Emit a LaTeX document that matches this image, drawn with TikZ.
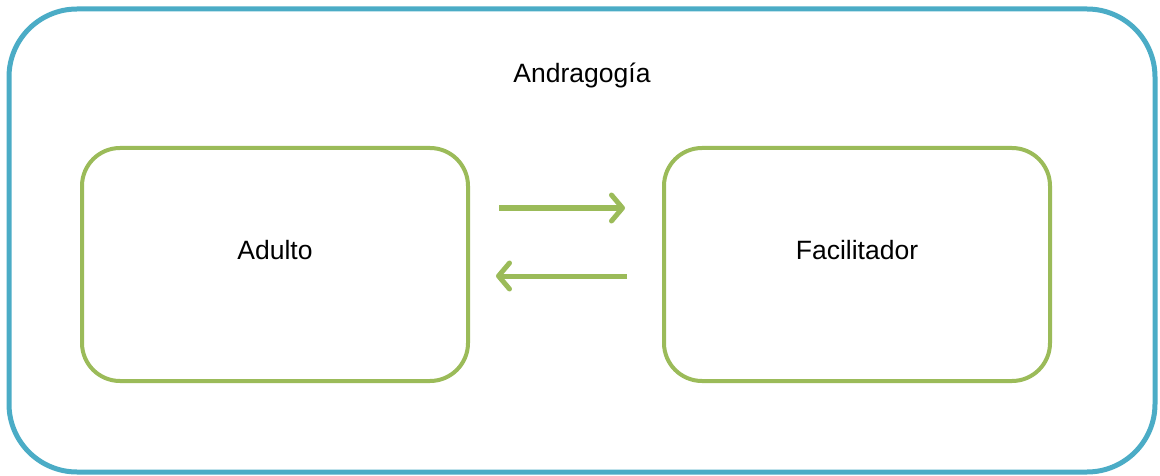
\documentclass[tikz,border=0pt]{standalone}
\usepackage{fontspec}
\setmainfont{Liberation Sans}
\usetikzlibrary{arrows.meta}
\definecolor{outerblue}{HTML}{4BACC6}
\definecolor{boxgreen}{HTML}{9BBB59}
\begin{document}
\begin{tikzpicture}[x=1pt,y=-1pt,
  outerbox/.style={draw=outerblue,line width=5pt,rounded corners=68pt},
  greenbox/.style={draw=boxgreen,line width=4pt,rounded corners=38pt,minimum width=386pt,minimum height=233pt,inner sep=0pt},
  lbl/.style={font=\fontsize{26.5}{31}\selectfont},
  flow/.style={draw=boxgreen,line width=5pt,-{Straight Barb[length=11pt,width=26pt,line width=5pt,round]}}]
\useasboundingbox (0,0) rectangle (1160,476);
\draw[outerbox] (9,9) rectangle (1155,472);
\node[lbl] (title) at (582,75) {Andragogía};
\node[greenbox] (adulto) at (275,264.5) {};
\node[greenbox] (facil) at (857,264.5) {};
\node[lbl] (ta) at (275,250) {Adulto};
\node[lbl] (tf) at (857,250) {Facilitador};
\coordinate (a1) at (499,208);
\coordinate (a2) at (625,208);
\coordinate (b1) at (627,276);
\coordinate (b2) at (496,276);
\draw[flow] (a1) -- (a2);
\draw[flow] (b1) -- (b2);
\end{tikzpicture}
\end{document}
